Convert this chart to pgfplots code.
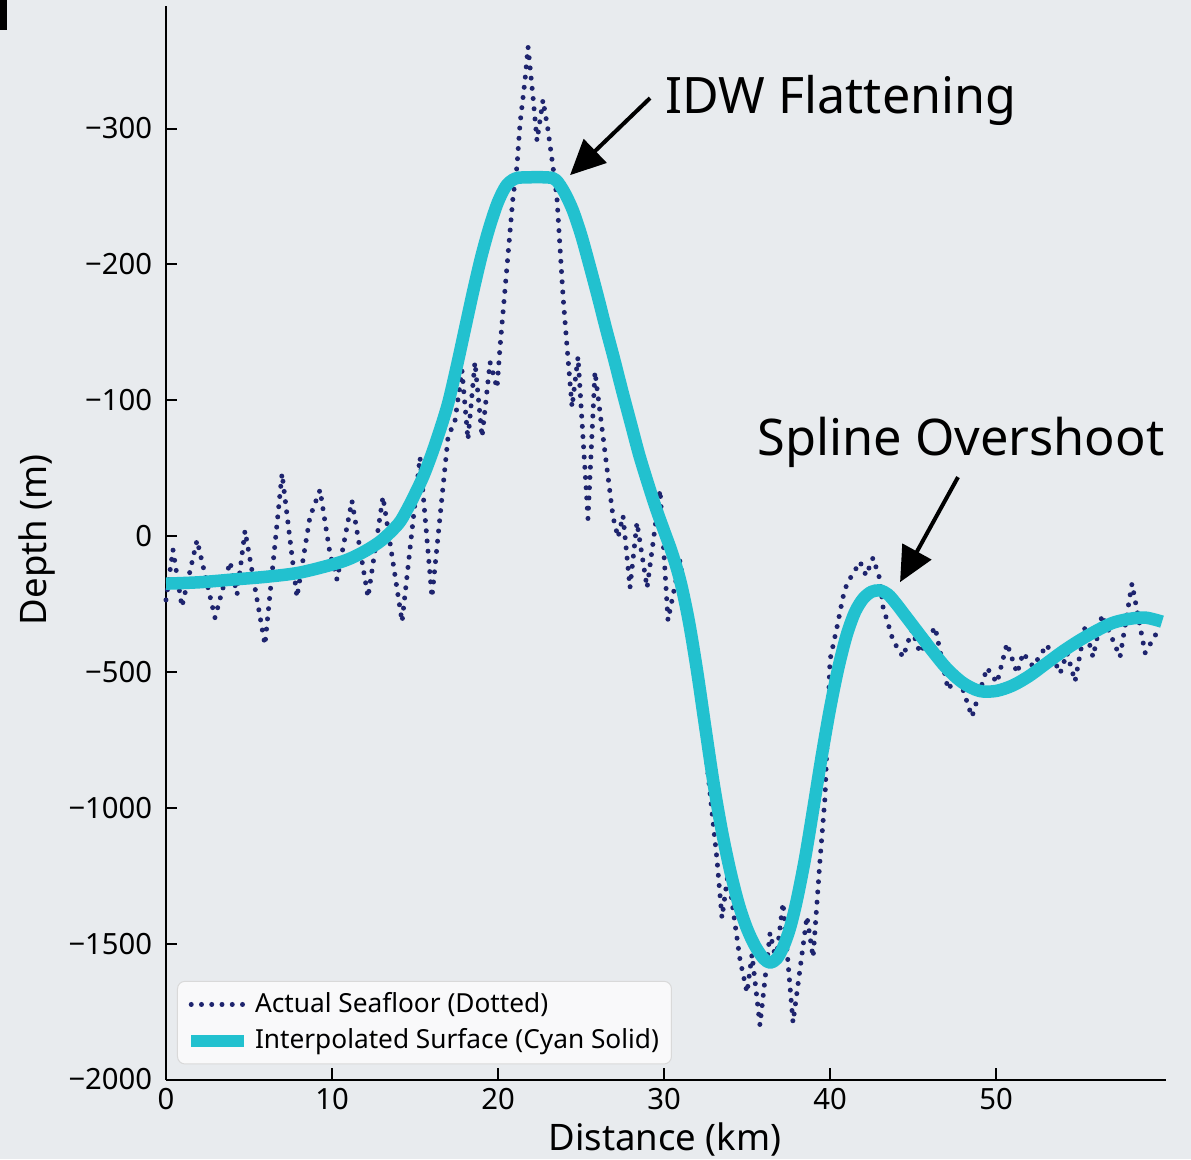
\documentclass[border=0pt]{standalone}
\usepackage{fontspec}
\setmainfont{Noto Sans}
\usepackage{pgfplots}
\pgfplotsset{compat=1.18}
\usetikzlibrary{arrows.meta}
\definecolor{bgc}{RGB}{232,235,238}
\definecolor{navyd}{RGB}{30,36,110}
\definecolor{cyanl}{RGB}{34,193,207}
\begin{document}
\begin{tikzpicture}
\path[use as bounding box, fill=bgc] (-66.4pt,-31.8pt) rectangle (410pt,431.8pt);
\fill[black] (-66.4pt,431.8pt) rectangle (-63.6pt,419.8pt);
\begin{axis}[
  scale only axis, width=400pt, height=429.3pt,
  xmin=0, xmax=60.24, ymin=-400, ymax=390,
  clip=false,
  axis lines=left, axis line style={-, line width=0.8pt, black},
  tick align=inside, major tick length=4.5pt, tick style={black, line width=0.8pt},
  xtick={0,10,20,30,40,50},
  ytick={-400,-300,-200,-100,0,100,200,300},
  yticklabels={−2000,−1500,−1000,−500,0,−100,−200,−300},
  ticklabel style={font=\fontsize{11.7}{14}\selectfont},
  /pgf/number format/assume math mode=true,
  yticklabel style={xshift=-2pt},
  xlabel={Distance (km)}, ylabel={Depth (m)},
  label style={font=\fontsize{14.6}{17}\selectfont},
  xlabel style={at={(axis description cs:0.499,-0.056)}, anchor=center},
  ylabel style={at={(axis description cs:-0.129,0.503)}, anchor=center},
  legend cell align=left,
  legend image code/.code={\draw[#1] (0pt,0pt) -- (21pt,0pt);},
  legend style={at={(0.011,0.014)}, anchor=south west, fill=white, fill opacity=0.75, text opacity=1,
    draw=black!15, rounded corners=3pt, font=\fontsize{10.5}{12.5}\selectfont,
    inner xsep=3pt, inner ysep=2.5pt, row sep=1pt},
]
\addplot[navyd, line width=2pt, line cap=round, line join=round, dash pattern=on 0pt off 4.1pt] coordinates {
(0,-47) (0.42,-10) (0.96,-52) (1.87,-3) (2.95,-60) (3.86,-19) (4.28,-43) (4.76,4) (5.96,-80) (6.99,46)
(7.89,-45) (8.67,14) (9.28,34) (9.88,-13) (10.30,-32) (11.20,26) (12.17,-45) (13.07,29) (14.22,-63) (15.30,58)
(16.02,-45) (16.99,73) (17.41,85) (17.83,122) (18.19,71) (18.61,128) (19.04,73) (19.52,128) (19.94,109) (20.12,139)
(20.90,249) (21.14,272) (21.33,304) (21.63,336) (21.81,360) (22.11,323) (22.35,291) (22.71,321) (23.01,299) (23.31,272)
(23.55,249) (23.92,176) (24.16,139) (24.46,95) (24.82,132) (25.42,13) (25.84,121) (26.93,14) (27.23,-1) (27.53,15)
(27.95,-38) (28.37,10) (28.98,-38) (29.76,34) (30.24,-62) (30.96,-18) (31.14,-32) (32.29,-133) (32.77,-189) (33.19,-238)
(33.49,-281) (33.86,-248) (34.16,-275) (34.58,-312) (35.00,-336) (35.30,-308) (35.78,-360) (36.39,-292) (36.75,-312) (37.17,-270)
(37.77,-358) (38.61,-280) (38.98,-310) (39.40,-238) (39.70,-192) (40.00,-91) (40.42,-67) (40.78,-45) (41.02,-35) (41.81,-19)
(42.17,-29) (42.59,-16) (43.01,-32) (43.19,-52) (43.80,-77) (44.40,-89) (44.94,-69) (45.42,-86) (46.33,-67) (47.11,-113)
(47.71,-102) (48.55,-133) (49.46,-97) (50.06,-108) (50.66,-79) (51.27,-101) (51.63,-86) (52.23,-96) (53.07,-80) (53.86,-101)
(54.28,-86) (54.76,-107) (55.36,-67) (55.84,-89) (56.39,-58) (57.47,-89) (58.19,-35) (58.98,-86) (59.88,-67)
};
\addlegendentry{Actual Seafloor (Dotted)}
\addplot[cyanl, line width=5pt, line join=round, smooth, tension=0.5] coordinates {
(0,-35) (2,-34) (4,-32) (6,-30) (8,-27) (10,-21) (11,-17) (12,-11) (13,-3) (14,9) (14.5,19) (15,31) (15.5,44)
(16,60) (16.5,78) (17,98) (17.5,124) (18,152) (18.5,180) (19,206) (19.5,228) (20,246) (20.5,258) (21,263)
(21.5,264) (23,264) (23.5,262) (24,253) (24.5,240) (25,222) (25.5,200) (26,177) (26.5,153) (27,130) (27.5,106)
(28,83) (28.5,60) (29,40) (29.5,21) (30,4) (30.5,-13) (31,-34) (31.5,-63) (32,-100) (32.5,-142) (33,-183)
(33.5,-218) (34,-247) (34.5,-271) (35,-289) (35.5,-302) (36,-311) (36.4,-314) (36.8,-311) (37.2,-302)
(37.6,-288) (38,-268) (38.5,-237) (39,-200) (39.5,-162) (40,-127) (40.5,-97) (41,-73) (41.5,-56) (42,-46)
(42.5,-41) (43,-40) (43.5,-43) (44,-50) (44.5,-58) (45,-66) (46,-82) (47,-97) (48,-108) (49,-114) (50,-114)
(51,-110) (52,-103) (53,-94) (54,-85) (55,-77) (56,-70) (57,-64) (58,-61) (59,-60) (60,-63)
};
\addlegendentry{Interpolated Surface (Cyan Solid)}
\node[anchor=base west, font=\fontsize{20.1}{24}\selectfont, inner sep=0pt] at (axis cs:30.06,311.4) {IDW Flattening};
\draw[-{Triangle[length=14pt,width=13pt]}, line width=1.6pt] (axis cs:29.16,322.4) -- (axis cs:24.34,265.7);
\node[anchor=base west, font=\fontsize{20.2}{24}\selectfont, inner sep=0pt] at (axis cs:35.6,59.6) {Spline Overshoot};
\draw[-{Triangle[length=14pt,width=13pt]}, line width=1.6pt] (axis cs:47.71,43.4) -- (axis cs:44.22,-33.9);
\end{axis}
\end{tikzpicture}
\end{document}
